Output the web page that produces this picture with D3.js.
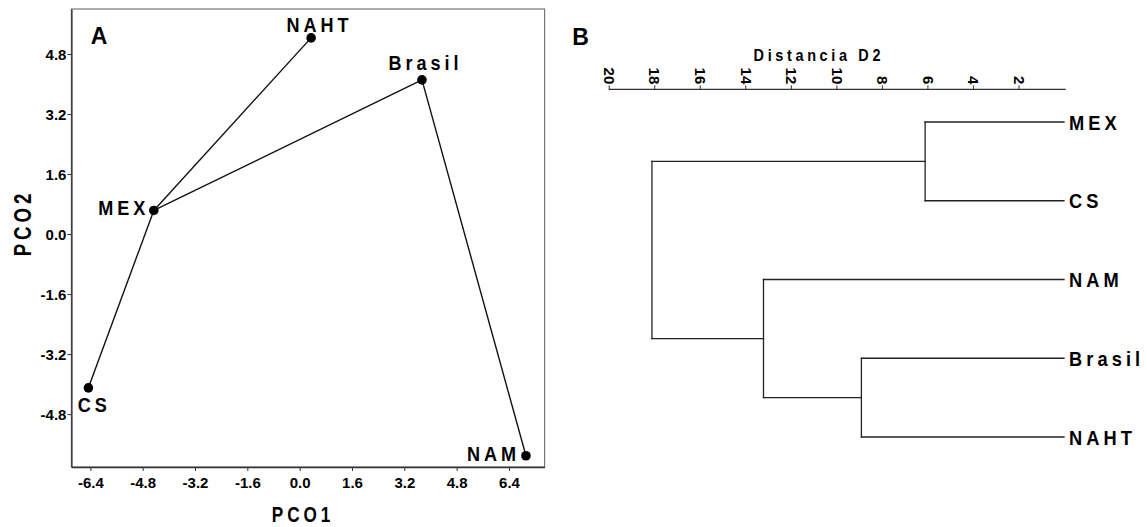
<!DOCTYPE html>
<html><head><meta charset="utf-8">
<script src="https://cdn.jsdelivr.net/npm/d3@7"></script>
<style>
body{margin:0;background:#fff;}
svg{display:block;}
text{font-family:"Liberation Sans",Arial,sans-serif;font-weight:bold;fill:#000;}
</style></head>
<body>
<script>
// ---- Panel A data (PCO scores) ----
const pcoLabels = ["MEX", "CS", "NAM", "Brasil", "NAHT"];
const pco1 = [-4.46, -6.46, 6.92, 3.74, 0.35];
const pco2 = [0.63, -4.10, -5.91, 4.11, 5.23];
const mstFrom = ["NAHT", "Brasil", "MEX", "Brasil"];
const mstTo = ["MEX", "MEX", "CS", "NAM"];
const xTicksA = [-6.4, -4.8, -3.2, -1.6, 0.0, 1.6, 3.2, 4.8, 6.4];
const yTicksA = [-4.8, -3.2, -1.6, 0.0, 1.6, 3.2, 4.8];

// ---- Panel B data (dendrogram, D2 distance) ----
const dendroLeaves = ["MEX", "CS", "NAM", "Brasil", "NAHT"];
const mergeNames = ["c1", "c2", "c3", "root"];
const mergeLeft = ["MEX", "Brasil", "NAM", "c1"];
const mergeRight = ["CS", "NAHT", "c2", "c3"];
const mergeHeight = [6.1, 8.9, 13.2, 18.1];
const xTicksB = [20, 18, 16, 14, 12, 10, 8, 6, 4, 2];

const W = 1147, H = 527;
const svg = d3.select("body").append("svg").attr("width", W).attr("height", H);

// condensed bold text helper (letter-spaced, horizontally squeezed)
function ctext(parent, x, y, txt, size, spacing, anchor, sx, rot) {
  const u = spacing * sx;
  const shift = anchor === "end" ? u : anchor === "middle" ? u / 2 : 0;
  const g = parent.append("g").attr("transform", `translate(${x},${y})` + (rot ? ` rotate(${rot})` : ""));
  g.append("text").attr("transform", `translate(${shift},0) scale(${sx},1)`).attr("text-anchor", anchor || "start")
    .style("font-size", size + "px").style("letter-spacing", spacing + "px").text(txt);
  return g;
}
const fmt1 = d => d.toFixed(1);

// ================= Panel A =================
const A = {l: 71.4, r: 544.6, t: 9, b: 467};
const x = d3.scaleLinear().domain([-6.98, 7.49]).range([A.l, A.r]);
const y = d3.scaleLinear().domain([-6.21, 6.0]).range([A.b, A.t]);

svg.append("rect").attr("x", A.l).attr("y", A.t).attr("width", A.r - A.l).attr("height", A.b - A.t)
  .attr("fill", "none").attr("stroke", "#777").attr("stroke-width", 1.2);

const gx = svg.append("g").attr("transform", `translate(0,${A.b})`)
  .call(d3.axisBottom(x).tickValues(xTicksA).tickFormat(fmt1).tickSize(4).tickSizeOuter(0));
const gy = svg.append("g").attr("transform", `translate(${A.l},0)`)
  .call(d3.axisLeft(y).tickValues(yTicksA).tickFormat(fmt1).tickSize(4).tickSizeOuter(0));
[gx, gy].forEach(g => {
  g.select(".domain").attr("stroke", "#333").attr("stroke-width", 1.4);
  g.selectAll(".tick line").attr("stroke", "#333");
  g.selectAll(".tick text").style("font-size", "15px").attr("fill", "#000");
});
gx.selectAll(".tick text").attr("dy", "0.95em");
gy.selectAll(".tick text").attr("x", -5).attr("dy", "0.35em");

const idx = n => pcoLabels.indexOf(n);
svg.append("g").selectAll("line").data(mstFrom.map((f, i) => [f, mstTo[i]])).join("line")
  .attr("x1", d => x(pco1[idx(d[0])])).attr("y1", d => y(pco2[idx(d[0])]))
  .attr("x2", d => x(pco1[idx(d[1])])).attr("y2", d => y(pco2[idx(d[1])]))
  .attr("stroke", "#111").attr("stroke-width", 1.4);

svg.append("g").selectAll("circle").data(pcoLabels).join("circle")
  .attr("cx", (d, i) => x(pco1[i])).attr("cy", (d, i) => y(pco2[i])).attr("r", 4.8).attr("fill", "#000");

// label offsets (layout only)
const labOff = {
  "NAHT": {dx: 6.4, dy: -6.3, anchor: "middle"},
  "Brasil": {dx: 1.6, dy: -10, anchor: "middle"},
  "MEX": {dx: -8.5, dy: 5, anchor: "end"},
  "CS": {dx: 3.9, dy: 24.6, anchor: "middle"},
  "NAM": {dx: -10, dy: 5.2, anchor: "end"}
};
const labG = svg.append("g");
pcoLabels.forEach((d, i) => {
  ctext(labG, x(pco1[i]) + labOff[d].dx, y(pco2[i]) + labOff[d].dy, d, 21, 4.6, labOff[d].anchor, 0.86);
});

svg.append("text").attr("x", 99).attr("y", 44).attr("text-anchor", "middle")
  .style("font-size", "23px").text("A");
ctext(svg, 301, 521.5, "PCO1", 22, 5, "middle", 0.78);
ctext(svg, 31, 225, "PCO2", 24, 5, "middle", 0.78, -90);

// ================= Panel B =================
const xD = d3.scaleLinear().domain([20, 0]).range([608.7, 1064]);
const yL = d3.scalePoint().domain(dendroLeaves).range([122, 437]);

const gb = svg.append("g").attr("transform", "translate(0,89.3)")
  .call(d3.axisTop(xD).tickValues(xTicksB).tickSize(4).tickSizeOuter(0));
gb.select(".domain").remove();
gb.append("line").attr("x1", xD(20)).attr("x2", xD(-0.08)).attr("stroke", "#333").attr("stroke-width", 1.2);
gb.selectAll(".tick line").attr("stroke", "#333");
gb.selectAll(".tick text").attr("y", 0).attr("x", 0).attr("dy", "0.35em")
  .attr("transform", "translate(0,-5) rotate(90)").attr("text-anchor", "end")
  .style("font-size", "15px").attr("fill", "#000");

ctext(svg, 817, 61, "Distancia D2", 17, 4.3, "middle", 0.85);
svg.append("text").attr("x", 580.5).attr("y", 45).attr("text-anchor", "middle")
  .style("font-size", "23px").text("B");

// build tree nodes
const nodes = {};
dendroLeaves.forEach(n => nodes[n] = {name: n, h: 0, y: yL(n), leaf: true});
mergeNames.forEach((n, i) => {
  const a = nodes[mergeLeft[i]], b = nodes[mergeRight[i]];
  nodes[n] = {name: n, h: mergeHeight[i], y: (a.y + b.y) / 2, kids: [a, b]};
});
const segs = [];
mergeNames.forEach(n => {
  const nd = nodes[n];
  segs.push([xD(nd.h), nd.kids[0].y, xD(nd.h), nd.kids[1].y]);
  nd.kids.forEach(k => segs.push([xD(nd.h), k.y, xD(k.h), k.y]));
});
svg.append("g").selectAll("line").data(segs).join("line")
  .attr("x1", d => d[0]).attr("y1", d => d[1]).attr("x2", d => d[2]).attr("y2", d => d[3])
  .attr("stroke", "#222").attr("stroke-width", 1.3).attr("stroke-linecap", "square");

const leafG = svg.append("g");
dendroLeaves.forEach(d => ctext(leafG, xD(0) + 5, yL(d) + 7.6, d, 21, 4.7, "start", 0.87));
</script>
</body></html>
